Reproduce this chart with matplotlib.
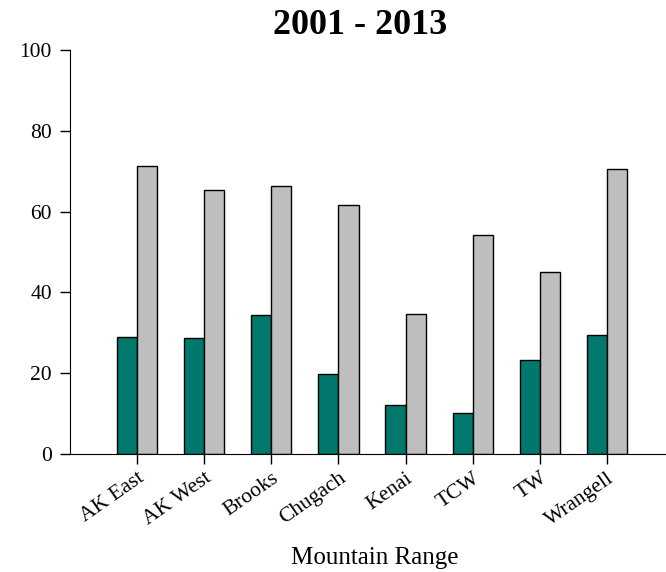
import numpy as np
import matplotlib.pyplot as plt

plt.rcParams['font.family'] = ['Liberation Serif', 'DejaVu Serif']

ranges = ['AK East', 'AK West', 'Brooks', 'Chugach', 'Kenai', 'TCW', 'TW', 'Wrangell']
teal_vals = [29.0, 28.7, 34.4, 19.8, 12.1, 10.2, 23.3, 29.4]
gray_vals = [71.3, 65.2, 66.2, 61.5, 34.6, 54.2, 45.1, 70.5]

fig = plt.figure(figsize=(6.66, 5.72), dpi=100)
ax = fig.add_axes([0.105, 0.206, 0.895, 0.707])

x = np.arange(len(ranges))
w = 0.3
ax.bar(x - w / 2, teal_vals, w, color='#00786C', edgecolor='black', linewidth=1)
ax.bar(x + w / 2, gray_vals, w, color='#BEBEBE', edgecolor='black', linewidth=1)

ax.set_xlim(-1, 7.88)
ax.set_ylim(0, 100)
ax.set_yticks([0, 20, 40, 60, 80, 100])
ax.set_xticks(x)
ax.set_xticklabels(ranges, rotation=35, ha='right', rotation_mode='anchor')
ax.tick_params(axis='both', labelsize=15.5, direction='out', length=7, width=1)
ax.tick_params(axis='y', pad=6)
ax.spines['top'].set_visible(False)
ax.spines['right'].set_visible(False)

fig.text(0.54, 0.956, '2001 - 2013', fontsize=26, fontweight='bold', ha='center', va='center')
fig.text(0.563, 0.014, 'Mountain Range', fontsize=18, ha='center')

fig.savefig('out.png', dpi=100)
